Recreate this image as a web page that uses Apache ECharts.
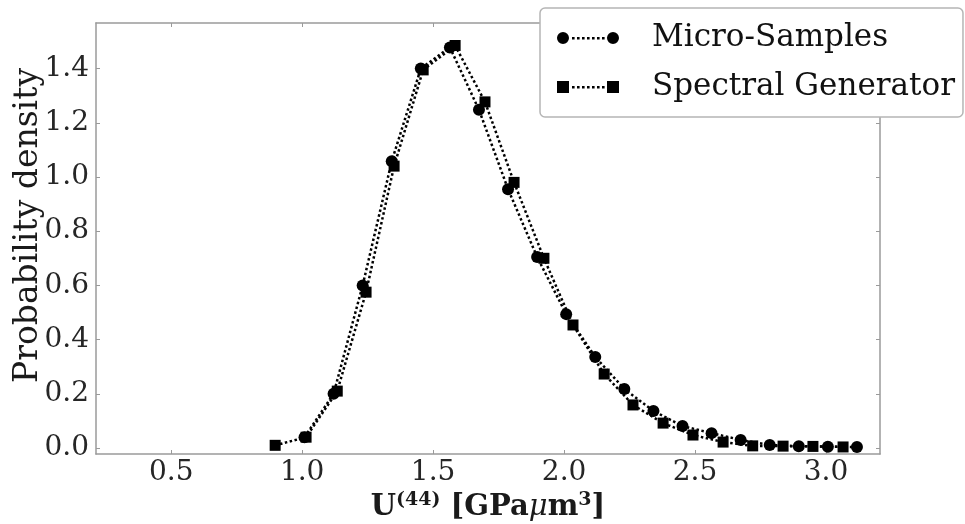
<!DOCTYPE html>
<html>
<head>
<meta charset="utf-8">
<script src="https://cdn.jsdelivr.net/npm/echarts@6/dist/echarts.min.js"></script>
<style>
  html, body { margin: 0; padding: 0; background: #fff; }
  #chart { width: 965px; height: 524px; }
</style>
</head>
<body>
<div id="chart"></div>
<script>
// Micro-sample histogram density
const microX = [1.009, 1.120, 1.231, 1.342, 1.453, 1.564, 1.675, 1.786, 1.897, 2.008,
                2.119, 2.230, 2.341, 2.452, 2.563, 2.674, 2.785, 2.896, 3.007, 3.118];
const microY = [0.040, 0.200, 0.600, 1.058, 1.400, 1.478, 1.248, 0.955, 0.705, 0.494,
                0.336, 0.218, 0.137, 0.081, 0.055, 0.030, 0.011, 0.007, 0.005, 0.004];

// Spectral generator density
const spectralX = [0.897, 1.015, 1.134, 1.244, 1.351, 1.462, 1.584, 1.698, 1.809, 1.923,
                   2.034, 2.153, 2.263, 2.378, 2.492, 2.607, 2.720, 2.836, 2.950, 3.065];
const spectralY = [0.010, 0.040, 0.210, 0.575, 1.040, 1.395, 1.485, 1.277, 0.980, 0.700,
                   0.454, 0.273, 0.159, 0.092, 0.048, 0.022, 0.008, 0.007, 0.006, 0.004];

const xTicks = [0.5, 1.0, 1.5, 2.0, 2.5, 3.0];
const yTicks = [0.0, 0.2, 0.4, 0.6, 0.8, 1.0, 1.2, 1.4];

const seriesNames = ['Micro-Samples', 'Spectral Generator'];

const pairs = (xs, ys) => xs.map((x, i) => [x, ys[i]]);

const X_MIN = 0.213, X_MAX = 3.206;
const Y_MIN = -0.022, Y_MAX = 1.568;

const FONT = 'DejaVu Serif';
const AXIS_GRAY = '#9a9a9a';

// Legend glyphs: two end markers joined by a dotted line
const dots = [15, 20, 25, 30, 35, 40, 45].map(x => `M${x},6h2.6v2.6h-2.6Z`).join('');
const circleIcon = 'path://M0,7a6,6 0 1,0 12,0a6,6 0 1,0 -12,0Z' +
                   'M50,7a6,6 0 1,0 12,0a6,6 0 1,0 -12,0Z' + dots;
const squareIcon = 'path://M0,1h12v12h-12Z M50,1h12v12h-12Z' + dots;

const tickLabel = {
  fontFamily: FONT, fontSize: 28, color: '#262626'
};

const baseX = {
  type: 'value', min: X_MIN, max: X_MAX,
  axisLine: { show: true, onZero: false, lineStyle: { color: AXIS_GRAY, width: 1.5 } },
  axisTick: { show: true, inside: true, length: 4, customValues: xTicks,
              lineStyle: { color: AXIS_GRAY, width: 1 } },
  splitLine: { show: false }
};
const baseY = {
  type: 'value', min: Y_MIN, max: Y_MAX,
  axisLine: { show: true, onZero: false, lineStyle: { color: AXIS_GRAY, width: 1.5 } },
  axisTick: { show: true, inside: true, length: 4, customValues: yTicks,
              lineStyle: { color: AXIS_GRAY, width: 1 } },
  splitLine: { show: false }
};

const chart = echarts.init(document.getElementById('chart'), null, { renderer: 'canvas' });

chart.setOption({
  animation: false,
  backgroundColor: '#fff',
  grid: { left: 96, right: 85, top: 23, bottom: 70, containLabel: false, outerBoundsMode: 'none' },
  xAxis: [
    Object.assign({}, baseX, {
      position: 'bottom',
      name: '{b|U}{s|(44)}{b| [GPa}{i|μ}{b|m}{s|3}{b|]}',
      nameLocation: 'middle',
      nameGap: 37,
      nameMoveOverlap: false,
      nameTextStyle: {
        rich: {
          b: { fontFamily: FONT, fontSize: 29, fontWeight: 'bold', color: '#1a1a1a' },
          i: { fontFamily: FONT, fontSize: 29, fontStyle: 'italic', color: '#1a1a1a' },
          s: { fontFamily: FONT, fontSize: 19, fontWeight: 'bold', color: '#1a1a1a',
               verticalAlign: 'top', padding: [0, 0, 14, 0] }
        }
      },
      axisLabel: Object.assign({ show: true, margin: 5, customValues: xTicks,
                                 formatter: v => v.toFixed(1) }, tickLabel)
    }),
    Object.assign({}, baseX, { position: 'top', axisLabel: { show: false } })
  ],
  yAxis: [
    Object.assign({}, baseY, {
      position: 'left',
      name: 'Probability density',
      nameLocation: 'middle',
      nameGap: 51,
      nameMoveOverlap: false,
      nameTextStyle: { fontFamily: FONT, fontSize: 33, color: '#1a1a1a', padding: [0, 0, 0, 26] },
      axisLabel: Object.assign({ show: true, margin: 7, customValues: yTicks,
                                 formatter: v => v.toFixed(1) }, tickLabel)
    }),
    Object.assign({}, baseY, { position: 'right', axisLabel: { show: false } })
  ],
  legend: {
    show: true,
    orient: 'vertical',
    left: 540,
    top: 8,
    padding: [12, 8, 12, 17],
    itemGap: 13,
    itemWidth: 62,
    itemHeight: 14,
    backgroundColor: '#fff',
    borderColor: '#b5b5b5',
    borderWidth: 1.5,
    borderRadius: 5,
    z: 10,
    textStyle: { fontFamily: FONT, fontSize: 31, color: '#111', lineHeight: 36,
                 padding: [0, 0, 0, 28] },
    data: [
      { name: seriesNames[0], icon: circleIcon, itemStyle: { color: '#000' } },
      { name: seriesNames[1], icon: squareIcon, itemStyle: { color: '#000' } }
    ]
  },
  series: [
    {
      name: seriesNames[0],
      type: 'line',
      data: pairs(microX, microY),
      symbol: 'circle',
      symbolSize: 12,
      itemStyle: { color: '#000' },
      lineStyle: { color: '#000', width: 2.5, type: [2.5, 2.5] },
      z: 3
    },
    {
      name: seriesNames[1],
      type: 'line',
      data: pairs(spectralX, spectralY),
      symbol: 'rect',
      symbolSize: 11,
      itemStyle: { color: '#000' },
      lineStyle: { color: '#000', width: 2.5, type: [2.5, 2.5] },
      z: 4
    }
  ]
});
</script>
</body>
</html>
